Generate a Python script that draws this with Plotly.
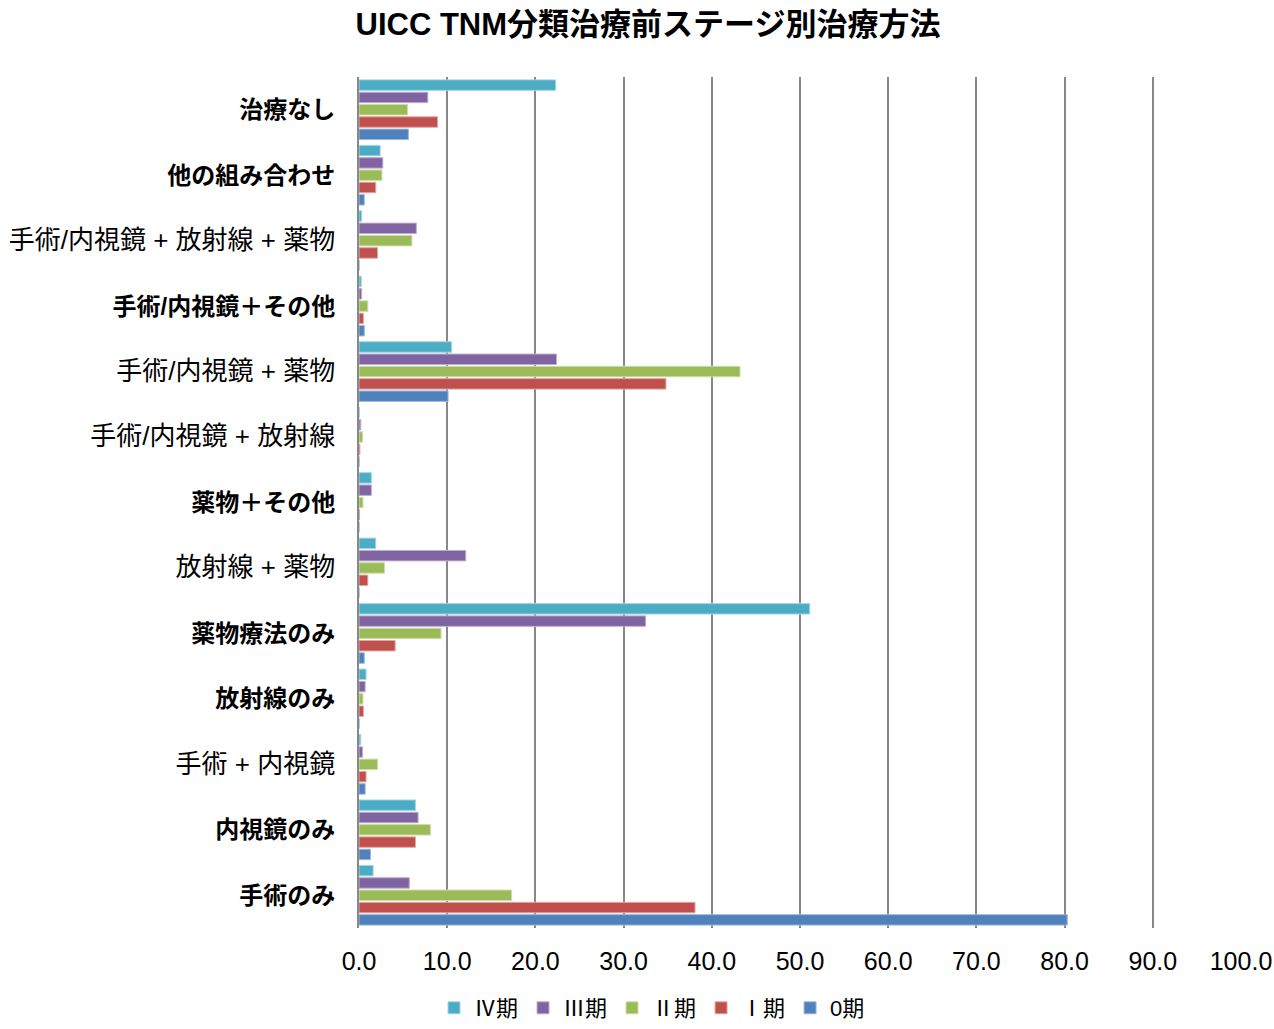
import plotly.graph_objects as go

categories = [
    "<b>手術のみ</b>", "<b>内視鏡のみ</b>", "手術 + 内視鏡", "<b>放射線のみ</b>",
    "<b>薬物療法のみ</b>", "放射線 + 薬物", "<b>薬物＋その他</b>", "手術/内視鏡 + 放射線",
    "手術/内視鏡 + 薬物", "<b>手術/内視鏡＋その他</b>", "手術/内視鏡 + 放射線 + 薬物",
    "<b>他の組み合わせ</b>", "<b>治療なし</b>",
]

stage0 = [80.3, 1.3, 0.7, 0.0, 0.6, 0.0, 0.0, 0.0, 10.1, 0.6, 0.0, 0.6, 5.6]
stage1 = [38.1, 6.4, 0.8, 0.5, 4.1, 1.0, 0.05, 0.1, 34.8, 0.5, 2.1, 1.9, 8.9]
stage2 = [17.3, 8.1, 2.1, 0.45, 9.3, 2.9, 0.45, 0.4, 43.2, 1.0, 6.0, 2.6, 5.5]
stage3 = [5.7, 6.7, 0.4, 0.7, 32.5, 12.1, 1.4, 0.2, 22.4, 0.3, 6.5, 2.7, 7.8]
stage4 = [1.6, 6.4, 0.2, 0.8, 51.1, 1.9, 1.4, 0.05, 10.5, 0.25, 0.3, 2.4, 22.3]

series = [
    ("0期", stage0, "#4F81BD", "#9DB8DC"),
    ("Ⅰ期", stage1, "#C0504D", "#E3A5A3"),
    ("Ⅱ期", stage2, "#9BBB59", "#CCDDAB"),
    ("Ⅲ期", stage3, "#8064A2", "#BDAED0"),
    ("Ⅳ期", stage4, "#4BACC6", "#A3D5E2"),
]

font_family = "Liberation Sans, Arial, Noto Sans CJK JP, sans-serif"


def tick_text(label):
    if label.startswith("<b>"):
        return label
    return '<span style="font-size:26px">' + label + "</span>"


fig = go.Figure()
for name, vals, col, edge in series:
    fig.add_trace(go.Bar(
        y=categories, x=vals, name=name, orientation="h",
        marker=dict(color=col, line=dict(color=edge, width=1)),
    ))

fig.update_layout(
    width=1274, height=1029,
    paper_bgcolor="white", plot_bgcolor="white",
    barmode="group", bargap=0.06, bargroupgap=0.15,
    margin=dict(l=359, r=33, t=77, b=101, autoexpand=False),
    font=dict(family=font_family, color="black"),
    title=dict(
        text="<b>UICC TNM分類治療前ステージ別治療方法</b>",
        x=648 / 1274, xanchor="center", y=1 - 24 / 1029, yanchor="middle",
        font=dict(size=31, family=font_family, color="black"),
    ),
    legend=dict(
        orientation="h", traceorder="reversed",
        xref="container", yref="container",
        x=652 / 1274, xanchor="center", y=0.0, yanchor="bottom",
        font=dict(size=22, family=font_family, color="black"),
        itemwidth=30,
    ),
    xaxis=dict(
        range=[0, 100], dtick=10, tickformat=".1f",
        showgrid=True, gridcolor="#888888", gridwidth=2,
        zeroline=False, showline=False, ticks="", ticklabelstandoff=16,
        tickfont=dict(size=25, family=font_family, color="black"),
    ),
    yaxis=dict(
        categoryorder="array", categoryarray=categories,
        tickmode="array", tickvals=categories,
        ticktext=[tick_text(c) for c in categories],
        showline=True, linecolor="#888888", linewidth=2,
        showgrid=False, ticks="", ticklabelstandoff=17,
        tickfont=dict(size=24, family=font_family, color="black"),
    ),
)

fig.write_html(
    "out.html",
    config={"displayModeBar": False},
    post_script="document.body.style.margin='0';document.body.style.padding='0';",
)
